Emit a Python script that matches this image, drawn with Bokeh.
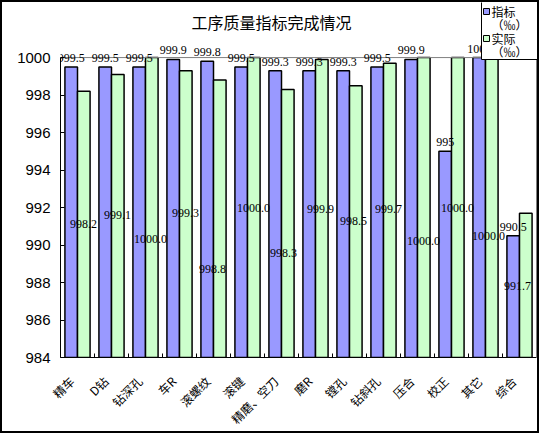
import math
import numpy as np
from bokeh.plotting import figure
from bokeh.models import (Range1d, FixedTicker, LabelSet, ColumnDataSource, Label,
                          BoxAnnotation)
from bokeh.embed import file_html
from bokeh.resources import INLINE

# ---- data ----
categories = ["精车", "D钻", "钻深孔", "车R", "滚螺纹", "滚键", "精磨、空刀",
              "磨R", "镗孔", "钻斜孔", "压合", "校正", "其它", "综合"]
target = [999.5, 999.5, 999.5, 999.9, 999.8, 999.5, 999.3,
          999.3, 999.3, 999.5, 999.9, 995.0, 1000.0, 990.5]
actual = [998.2, 999.1, 1000.0, 999.3, 998.8, 1000.0, 998.3,
          999.9, 998.5, 999.7, 1000.0, 1000.0, 1000.0, 991.7]
# where the 实际 value labels sit in the reference
# (value units, and sideways offset from the category centre in category widths)
actual_label_y = [991.1, 991.6, 990.3, 991.7, 988.7, 992.0, 989.6,
                  991.9, 991.3, 991.9, 990.2, 992.0, 990.5, 987.8]
actual_label_dx = [0.18, 0.18, 0.15, 0.18, -0.03, 0.18, 0.06,
                   0.15, 0.12, 0.15, 0.18, 0.18, 0.09, -0.06]
target_labels = ["999.5", "999.5", "999.5", "999.9", "999.8", "999.5", "999.3",
                 "999.3", "999.3", "999.5", "999.9", "995", "1000", "990.5"]
actual_labels = ["%.1f" % v for v in actual]
y_ticks = [984, 986, 988, 990, 992, 994, 996, 998, 1000]
title_text = "工序质量指标完成情况"
series_names = ["指标", "实际"]
unit_text = "（‰）"
colors = ["#9999FF", "#CCFFCC"]

n = len(categories)
y_min, y_max = y_ticks[0], y_ticks[-1]

# ---- layout (canvas pixels) ----
BORDER = 2
CW, CH = 543 - 2 * BORDER, 437 - 2 * BORDER
PLOT_L, PLOT_R = 58, 534      # plot-area left / right (x = 0 .. n)
PLOT_T, PLOT_B = 56, 361      # plot-area top / bottom (y = max .. min)
FRAME_R = CW                  # frame extends to the right canvas edge
px_x = (PLOT_R - PLOT_L) / n
px_y = (PLOT_B - PLOT_T) / (y_max - y_min)
x_end = n + (FRAME_R - PLOT_R) / px_x
y_end = y_max + PLOT_T / px_y
LABEL_SHIFT = 6 / px_x        # category labels sit a little left of centre


def fx(page_x):
    """page pixel x -> frame-relative screen x"""
    return page_x - BORDER - PLOT_L


def fy(page_y):
    """page pixel y -> frame-relative screen y (from frame bottom, upward)"""
    return PLOT_B - (page_y - BORDER)


centers = np.arange(n) + 0.5
bw = 0.37
xb = centers - bw / 2
xg = centers + bw / 2
xal = centers + np.array(actual_label_dx)

p = figure(width=CW, height=CH, x_range=Range1d(0, x_end), y_range=Range1d(y_min, y_end),
           output_backend="svg", toolbar_location=None,
           min_border_left=PLOT_L, min_border_right=CW - FRAME_R,
           min_border_top=0, min_border_bottom=CH - PLOT_B)
p.styles = {"border": "%dpx solid black" % BORDER}
p.grid.visible = False
p.outline_line_color = None
p.background_fill_color = "white"
p.border_fill_color = "white"

src = ColumnDataSource(dict(xb=xb, xg=xg, xal=xal, t=target, a=actual,
                            tl=target_labels, al=actual_labels, aly=actual_label_y))

rb = p.vbar(x="xb", top="t", bottom=y_min, width=bw, source=src,
            fill_color=colors[0], line_color="black", line_width=1.5)
rg = p.vbar(x="xg", top="a", bottom=y_min, width=bw, source=src,
            fill_color=colors[1], line_color="black", line_width=1.5)

# grey plot-area border (top and right)
p.segment(x0=[0, n], y0=[y_max, y_min], x1=[n, n], y1=[y_max, y_max],
          line_color="#808080", line_width=1)

lab_font = "Liberation Mono"
ls1 = LabelSet(x="xb", y="t", text="tl", source=src, text_align="center",
               text_baseline="bottom", y_offset=5, text_font=lab_font,
               text_font_size="12px", text_color="black")
ls2 = LabelSet(x="xal", y="aly", text="al", source=src, text_align="center",
               text_baseline="middle", text_font=lab_font,
               text_font_size="12px", text_color="black")
p.add_layout(ls1)
p.add_layout(ls2)

# axes
ya = p.yaxis[0]
ya.ticker = FixedTicker(ticks=y_ticks)
ya.bounds = (y_min, y_max)
ya.major_tick_in = 4
ya.major_tick_out = 0
ya.minor_tick_line_color = None
ya.axis_line_color = "black"
ya.major_label_text_font = "Liberation Sans"
ya.major_label_text_font_size = "15px"
ya.major_label_text_color = "black"
ya.major_label_standoff = 10

label_pos = [float(c - LABEL_SHIFT) for c in centers]
xa = p.xaxis[0]
xa.ticker = FixedTicker(ticks=label_pos, minor_ticks=list(range(1, n)))
xa.bounds = (0, n)
xa.major_label_overrides = {pos: name for pos, name in zip(label_pos, categories)}
xa.major_label_orientation = math.pi / 4
xa.major_tick_line_color = None
xa.minor_tick_in = 4
xa.minor_tick_out = 0
xa.minor_tick_line_color = "black"
xa.axis_line_color = "black"
xa.major_label_text_font = "Noto Sans CJK SC"
xa.major_label_text_font_size = "12px"
xa.major_label_text_color = "black"
xa.major_label_standoff = 15

# title
p.add_layout(Label(x=fx(271), y=fy(27), x_units="screen", y_units="screen", text=title_text,
                   text_align="center", text_baseline="middle",
                   text_font="Noto Sans CJK SC", text_font_size="16px", text_color="black"))

# legend (drawn by hand so each entry can have a two-line label)
p.add_layout(BoxAnnotation(left=fx(481), right=fx(538), top=fy(7), bottom=fy(65),
                           left_units="screen", right_units="screen",
                           top_units="screen", bottom_units="screen",
                           fill_color="white", fill_alpha=1.0,
                           line_color="black", line_width=1, line_alpha=1.0))
for i, (name, col) in enumerate(zip(series_names, colors)):
    y0 = 14 + 27 * i
    p.add_layout(BoxAnnotation(left=fx(483), right=fx(489), top=fy(y0), bottom=fy(y0 + 6),
                               left_units="screen", right_units="screen",
                               top_units="screen", bottom_units="screen",
                               fill_color=col, fill_alpha=1.0,
                               line_color="black", line_width=1, line_alpha=1.0))
    p.add_layout(Label(x=fx(491), y=fy(y0 + 3), x_units="screen", y_units="screen",
                       text=name, text_align="left", text_baseline="middle",
                       text_font="Noto Sans CJK SC", text_font_size="12px",
                       text_color="black"))
    p.add_layout(Label(x=fx(491), y=fy(y0 + 16), x_units="screen", y_units="screen",
                       text=unit_text, text_align="left", text_baseline="middle",
                       text_font="Noto Sans CJK SC", text_font_size="12px",
                       text_color="black"))

open("out.html", "w").write(file_html(p, INLINE))
